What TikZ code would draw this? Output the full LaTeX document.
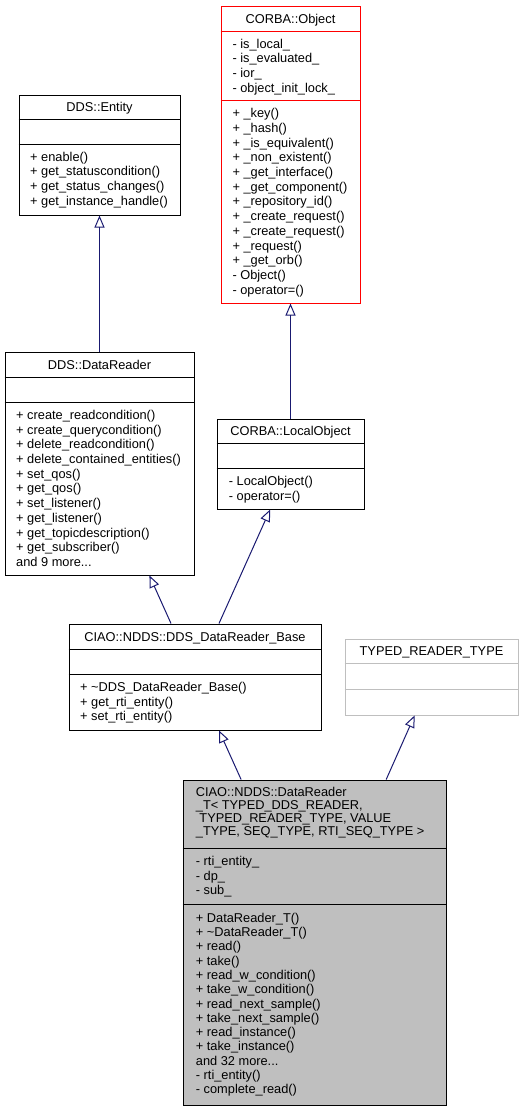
\documentclass[tikz,border=0pt]{standalone}
\usepackage{fontspec}
\setmainfont{Liberation Sans}
\usetikzlibrary{arrows.meta,calc}
\definecolor{edgeblue}{HTML}{191970}
\definecolor{boxgray}{HTML}{BFBFBF}
\tikzset{
  cls/.style={draw=black, line width=1pt, inner sep=0pt, rectangle},
  sepline/.style={draw=black, line width=1pt},
  txt/.style={inner sep=0pt, align=left, anchor=north west,
    font=\fontsize{12.8}{14.7}\selectfont},
  ttl/.style={inner sep=0pt, anchor=north,
    font=\fontsize{12.8}{14.7}\selectfont},
  inh/.style={draw=edgeblue, line width=1pt, -{Triangle[open, length=12pt, width=10pt]}}
}
\newcommand{\stt}{\strut}
\begin{document}
\lineskiplimit=-20pt
\begin{tikzpicture}[x=1pt, y=-1pt]
\useasboundingbox (0,0) rectangle (525,1112);

% DDS::Entity
\node[cls, minimum width=161, minimum height=120] (entity) at (99.5,155) {};
\draw[sepline] ($(entity.north west)+(0,25)$) -- ($(entity.north east)+(0,25)$);
\draw[sepline] ($(entity.north west)+(0,50)$) -- ($(entity.north east)+(0,50)$);
\node[ttl] (entityT) at (99.5,101) {\stt DDS::Entity};
\node[txt] (entityM) at (30,150.6) {\stt + enable()\\\stt + get\_statuscondition()\\\stt + get\_status\_changes()\\\stt + get\_instance\_handle()};

% CORBA::Object
\node[cls, draw=red, minimum width=139, minimum height=297] (object) at (290.5,154.5) {};
\draw[sepline, draw=red] ($(object.north west)+(0,26)$) -- ($(object.north east)+(0,26)$);
\draw[sepline, draw=red] ($(object.north west)+(0,95)$) -- ($(object.north east)+(0,95)$);
\node[ttl] (objectT) at (290.5,12.6) {\stt CORBA::Object};
\node[txt] (objectA) at (232.3,37.6) {\stt - is\_local\_\\\stt - is\_evaluated\_\\\stt - ior\_\\\stt - object\_init\_lock\_};
\node[txt] (objectM) at (232.3,107.3) {\stt + \_key()\\\stt + \_hash()\\\stt + \_is\_equivalent()\\\stt + \_non\_existent()\\\stt + \_get\_interface()\\\stt + \_get\_component()\\\stt + \_repository\_id()\\\stt + \_create\_request()\\\stt + \_create\_request()\\\stt + \_request()\\\stt + \_get\_orb()\\\stt - Object()\\\stt - operator=()};

% DDS::DataReader
\node[cls, minimum width=189, minimum height=223] (datareader) at (99.5,463.5) {};
\draw[sepline] ($(datareader.north west)+(0,26)$) -- ($(datareader.north east)+(0,26)$);
\draw[sepline] ($(datareader.north west)+(0,51)$) -- ($(datareader.north east)+(0,51)$);
\node[ttl] (datareaderT) at (99.5,358.6) {\stt DDS::DataReader};
\node[txt] (datareaderM) at (16,409) {\stt + create\_readcondition()\\\stt + create\_querycondition()\\\stt + delete\_readcondition()\\\stt + delete\_contained\_entities()\\\stt + set\_qos()\\\stt + get\_qos()\\\stt + set\_listener()\\\stt + get\_listener()\\\stt + get\_topicdescription()\\\stt + get\_subscriber()\\\stt and 9 more...};

% CORBA::LocalObject
\node[cls, minimum width=147, minimum height=90] (localobj) at (290.5,464) {};
\draw[sepline] ($(localobj.north west)+(0,25)$) -- ($(localobj.north east)+(0,25)$);
\draw[sepline] ($(localobj.north west)+(0,50)$) -- ($(localobj.north east)+(0,50)$);
\node[ttl] (localobjT) at (290.5,424.6) {\stt CORBA::LocalObject};
\node[txt] (localobjM) at (228.7,475) {\stt - LocalObject()\\\stt - operator=()};

% CIAO::NDDS::DDS_DataReader_Base
\node[cls, minimum width=252, minimum height=106] (base) at (195,677) {};
\draw[sepline] ($(base.north west)+(0,26)$) -- ($(base.north east)+(0,26)$);
\draw[sepline] ($(base.north west)+(0,51)$) -- ($(base.north east)+(0,51)$);
\node[ttl] (baseT) at (195,630.6) {\stt CIAO::NDDS::DDS\_DataReader\_Base};
\node[txt] (baseM) at (80,681) {\stt + \textasciitilde DDS\_DataReader\_Base()\\\stt + get\_rti\_entity()\\\stt + set\_rti\_entity()};

% TYPED_READER_TYPE
\node[cls, draw=boxgray, minimum width=173, minimum height=76] (typed) at (431.5,677) {};
\draw[sepline, draw=boxgray] ($(typed.north west)+(0,25)$) -- ($(typed.north east)+(0,25)$);
\draw[sepline, draw=boxgray] ($(typed.north west)+(0,51)$) -- ($(typed.north east)+(0,51)$);
\node[ttl] (typedT) at (431.5,644.6) {\stt TYPED\_READER\_TYPE};

% CIAO::NDDS::DataReader_T
\node[cls, fill=boxgray, minimum width=263, minimum height=325] (drt) at (314.5,942.5) {};
\draw[sepline] ($(drt.north west)+(0,69)$) -- ($(drt.north east)+(0,69)$);
\draw[sepline] ($(drt.north west)+(0,125)$) -- ($(drt.north east)+(0,125)$);
\node[txt, font=\fontsize{12.8}{12.8}\selectfont] (drtT) at (195.7,787.3) {\stt CIAO::NDDS::DataReader\\\stt \_T< TYPED\_DDS\_READER,\\\stt \ TYPED\_READER\_TYPE, VALUE\\\stt \_TYPE, SEQ\_TYPE, RTI\_SEQ\_TYPE >};
\node[txt] (drtA) at (195.7,855) {\stt - rti\_entity\_\\\stt - dp\_\\\stt - sub\_};
\node[txt, font=\fontsize{12.8}{14.29}\selectfont] (drtM) at (195.7,912.1) {\stt + DataReader\_T()\\\stt + \textasciitilde DataReader\_T()\\\stt + read()\\\stt + take()\\\stt + read\_w\_condition()\\\stt + take\_w\_condition()\\\stt + read\_next\_sample()\\\stt + take\_next\_sample()\\\stt + read\_instance()\\\stt + take\_instance()\\\stt and 32 more...\\\stt - rti\_entity()\\\stt - complete\_read()};

% inheritance
\draw[inh] (datareader) -- (entity);
\draw[inh] (localobj) -- (object);
\draw[inh] (base) -- (datareader);
\draw[inh] (base) -- (localobj);
\draw[inh] (drt) -- (base);
\draw[inh] (drt) -- (typed);
\end{tikzpicture}
\end{document}
